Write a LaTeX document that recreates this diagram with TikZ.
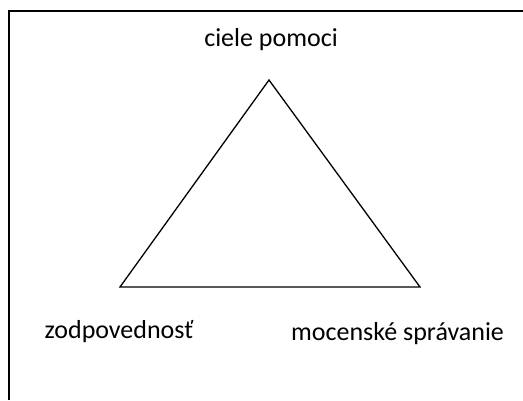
\documentclass[tikz,border=0pt]{standalone}
\usepackage{fontspec}
\setmainfont{Carlito}
\begin{document}
\begin{tikzpicture}[x=1pt,y=1pt,
  lbl/.style={anchor=base,inner sep=0pt,font=\fontsize{26}{30}\selectfont},
  edge/.style={line width=1.3pt,line join=miter}]
\useasboundingbox (0,0) rectangle (523,400);
\fill[white] (0,0) rectangle (523,400);
% outer frame: only its left and top sides fall inside the page
\coordinate (fl) at (9,0);
\coordinate (fc) at (9,389);
\coordinate (fr) at (523,389);
\draw[line width=1.8pt] (fl) -- (fc) -- (fr);
% triangle corners
\coordinate (top) at (269,320);
\coordinate (bl) at (120,113);
\coordinate (br) at (420,113);
\draw[edge] (top) -- (bl) -- (br) -- cycle;
% labels
\node[lbl] (goals) at (271,353) {ciele pomoci};
\node[lbl] (resp) at (119,62) {zodpovednosť};
\node[lbl] (power) at (397.5,60) {mocenské správanie};
\end{tikzpicture}
\end{document}
